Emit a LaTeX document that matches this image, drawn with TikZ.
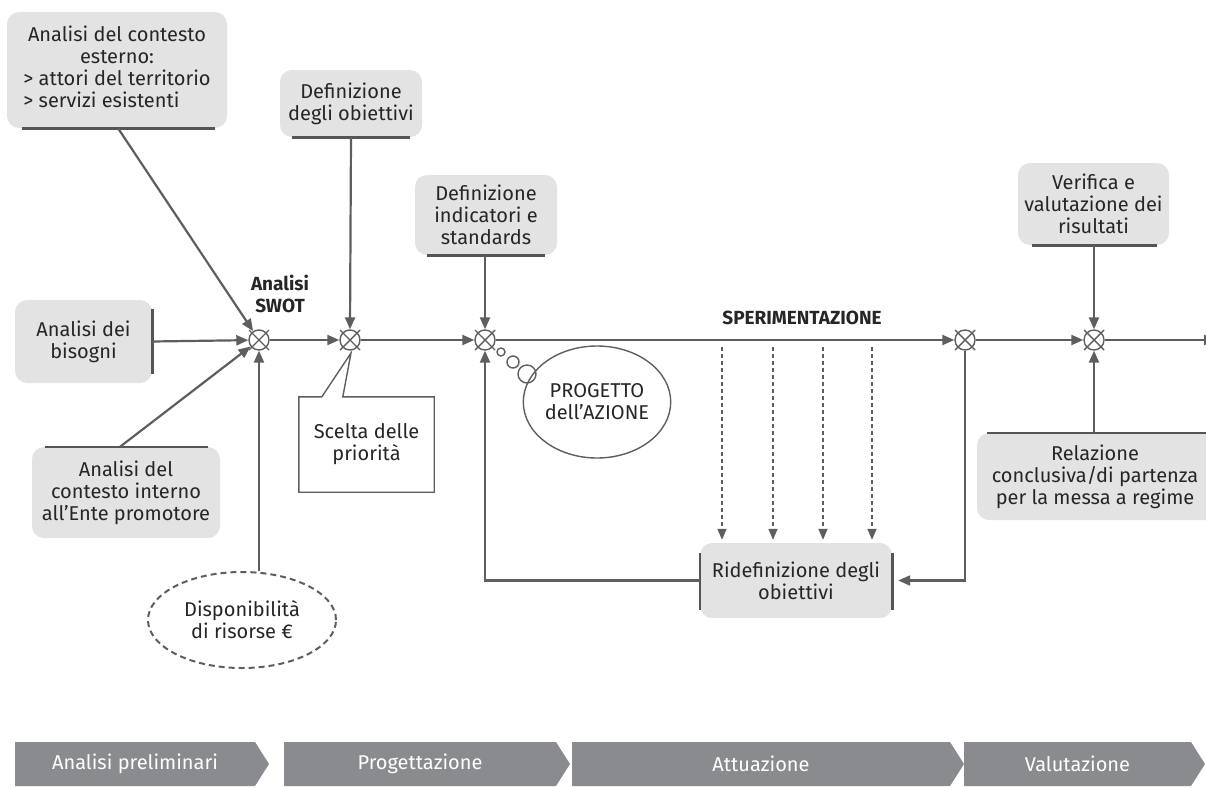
\documentclass[tikz,border=0pt]{standalone}
\usepackage{fontspec}
\setmainfont{Fira Sans}
\usetikzlibrary{arrows.meta,shapes.geometric,shapes.symbols,calc}
\definecolor{ln}{HTML}{5E5E5E}
\definecolor{bar}{HTML}{555555}
\definecolor{bx}{HTML}{E3E3E4}
\definecolor{ch}{HTML}{8A8B8E}
\definecolor{tx}{HTML}{262626}
\begin{document}
\begin{tikzpicture}[x=1pt,y=-1pt,
  font=\fontsize{20}{22}\selectfont,
  box/.style={fill=bx, rounded corners=12pt, align=center, inner sep=0pt, text=tx},
  edge/.style={draw=ln, line width=2.2pt},
  arr/.style={edge, -{Triangle[length=12pt,width=10pt]}},
  darr/.style={draw=ln, line width=1.6pt, dash pattern=on 4pt off 3pt, -{Triangle[length=11pt,width=9pt]}},
  barline/.style={draw=bar, line width=2.6pt},
  xn/.style={circle, draw=ln, line width=1.4pt, minimum size=20pt, inner sep=0pt, fill=white},
  chev/.style={signal, signal to=east, signal from=nowhere, fill=ch, text=white,
    minimum height=44pt, inner sep=0pt, signal pointer angle=115,
    font=\fontsize{20}{22}\selectfont},
  bold/.style={font=\fontsize{19}{22}\selectfont\bfseries, text=tx, align=center}
]
\useasboundingbox (0,0) rectangle (1206,787);
\clip (0,0) rectangle (1206,787);

% boxes
\node[box, minimum width=220pt, minimum height=116pt] (b1) at (117,70) {%
  \begin{tabular}{@{}l@{}}\multicolumn{1}{@{}c@{}}{Analisi del contesto}\\
  \multicolumn{1}{@{}c@{}}{esterno:}\\ > attori del territorio\\ > servizi esistenti\end{tabular}};
\node[box, minimum width=142pt, minimum height=67pt] (b2) at (351,103.5) {Definizione\\degli obiettivi};
\node[box, minimum width=142pt, minimum height=80pt] (b3) at (486,215) {Definizione\\indicatori e\\standards};
\node[box, minimum width=151pt, minimum height=82pt] (b4) at (1093.5,204) {Verifica e\\valutazione dei\\risultati};
\node[box, minimum width=137pt, minimum height=83pt] (b5) at (83.5,341.5) {Analisi dei\\bisogni};
\node[box, minimum width=188pt, minimum height=91pt] (b6) at (126,492.5) {Analisi del\\contesto interno\\all’Ente promotore};
\node[box, minimum width=192pt, minimum height=75pt] (rd) at (796,580.5) {Ridefinizione degli\\obiettivi};
\node[box, minimum width=250pt, minimum height=87pt] (b7) at (1102,476.5) {};
\node[align=center, text=tx, inner sep=0pt] (b7t) at (1095,477) {Relazione\\conclusiva/di partenza\\per la messa a regime};

% bars on boxes
\draw[barline] ([xshift=15pt]b1.south west) -- ([xshift=-12pt]b1.south east);
\draw[barline] ([xshift=12pt]b2.south west) -- ([xshift=-12pt]b2.south east);
\draw[barline] ([xshift=12pt]b3.south west) -- ([xshift=-12pt]b3.south east);
\draw[barline] ([xshift=14pt]b4.south west) -- ([xshift=-12pt]b4.south east);
\draw[barline] ([yshift=-9pt]b5.north east) -- ([yshift=9pt]b5.south east);
\draw[barline] ([xshift=13pt]b6.north west) -- ([xshift=-12pt]b6.north east);
\draw[barline] ([yshift=-10pt]rd.north west) -- ([yshift=8pt]rd.south west);
\draw[barline] ([yshift=-10pt]rd.north east) -- ([yshift=8pt]rd.south east);
\draw[barline] ([xshift=10pt]b7.north west) -- (b7.north east);

% junction nodes
\node[xn] (n1) at (259,340) {};
\node[xn] (n2) at (350,340) {};
\node[xn] (n3) at (485,340) {};
\node[xn] (n4) at (965,340) {};
\node[xn] (n5) at (1094,340) {};
\foreach \n in {n1,n2,n3,n4,n5}{
  \draw[ln, line width=1.4pt] ($(\n)+(-10,-10)$) -- ($(\n)+(10,10)$) ($(\n)+(-10,10)$) -- ($(\n)+(10,-10)$);
}

% labels
\node[bold] (sw) at (280,294) {Analisi\\SWOT};
\node[bold] (sp) at (802,318) {SPERIMENTAZIONE};

% dashed ellipse
\node[ellipse, draw=ln, line width=2pt, dash pattern=on 6pt off 4pt, minimum width=188pt, minimum height=96pt,
  inner sep=0pt, align=center, text=tx] (dr) at (242,620) {Disponibilità\\di risorse €};

% callout
\node[inner sep=0pt, minimum width=135pt, minimum height=95pt, align=center, text=tx] (sc) at (366.5,444.5) {Scelta delle\\priorità};
\draw[ln, line width=1.4pt] (sc.north west) -- ++(23,0) -- (351,353) -- ($(sc.north west)+(44,0)$) -- (sc.north east)
  -- (sc.south east) -- (sc.south west) -- cycle;

% thought bubble
\node[ellipse, draw=ln, line width=1.4pt, minimum width=138pt, minimum height=112pt, inner sep=0pt,
  align=center, text=tx] (pg) at (597,402) {PROGETTO\\dell’AZIONE};
\node[circle, draw=ln, line width=1.4pt, minimum size=8pt, inner sep=0pt] (t1) at (501,352) {};
\node[circle, draw=ln, line width=1.4pt, minimum size=12pt, inner sep=0pt] (t2) at (513,362) {};
\node[circle, draw=ln, line width=1.4pt, minimum size=18pt, inner sep=0pt] (t3) at (527,374) {};

% connectors
\draw[arr] (b1.south) ++(1,0) coordinate (b1s) -- (n1);
\draw[arr] (b5.east) -- (n1);
\draw[arr] (b6.north) ++(-6,0) coordinate (b6n) -- (n1);
\draw[arr] (n1 |- dr.north) -- (n1.south);
\draw[arr] (b2.south) -- (n2.north);
\draw[arr] (n1) -- (n2);
\draw[arr] (n2) -- (n3);
\draw[arr] (b3.south -| n3) -- (n3.north);
\draw[arr] (n3) -- (n4);
\draw[arr] (n4) -- (n5);
\draw[arr] (b4.south -| n5) -- (n5.north);
\draw[arr] (b7.north -| n5) -- (n5.south);
\coordinate (endp) at (1216,340);
\draw[arr] (n5) -- (endp);
\foreach \x/\i in {722/1,773/2,823/3,872/4}{
  \coordinate (d\i) at (\x,347);
  \draw[darr, shorten >=3pt] (d\i) -- (d\i |- rd.north);
}
\draw[arr, shorten >=6pt] (n4.south) |- (rd.east);
\draw[arr] (rd.west) -| (n3.south);

% chevrons
\node[chev, minimum width=254pt] (c1) at (135,764) {Analisi preliminari};
\node[chev, minimum width=286pt] (c2) at (420,764) {Progettazione};
\node[chev, minimum width=392pt] (c3) at (761,764) {Attuazione};
\node[chev, minimum width=241pt] (c4) at (1077.5,764) {Valutazione};
\end{tikzpicture}
\end{document}
